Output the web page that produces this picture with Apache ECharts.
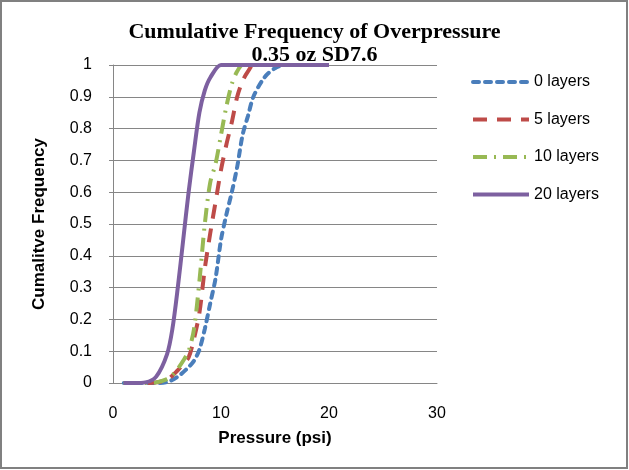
<!DOCTYPE html>
<html>
<head>
<meta charset="utf-8">
<script src="https://cdn.jsdelivr.net/npm/echarts@6/dist/echarts.min.js"></script>
<style>
  html, body { margin: 0; padding: 0; background: #fff; }
  #main { width: 629px; height: 470px; }
</style>
</head>
<body>
<div id="main"></div>
<script>
// values
var layers0X = [1, 2, 3, 4, 5, 6, 7, 7.5, 8, 8.5, 9, 9.5, 10, 10.5, 11, 11.5, 12, 12.5, 13, 14, 15, 16, 17, 18, 19, 20];
var layers0Y = [0, 0, 0, 0, 0.003, 0.02, 0.05, 0.07, 0.105, 0.17, 0.25, 0.33, 0.45, 0.53, 0.6, 0.68, 0.78, 0.84, 0.9, 0.96, 0.99, 1, 1, 1, 1, 1];

var layers5X = [1, 2, 3, 4, 5, 6, 6.5, 7, 7.5, 8, 8.5, 9, 9.5, 10, 10.5, 11, 11.5, 12, 12.5, 13, 14, 15, 16, 17, 18, 19, 20];
var layers5Y = [0, 0, 0, 0.002, 0.01, 0.04, 0.06, 0.08, 0.14, 0.22, 0.36, 0.47, 0.57, 0.67, 0.75, 0.82, 0.9, 0.95, 0.98, 1, 1, 1, 1, 1, 1, 1, 1];

var layers10X = [1, 2, 3, 4, 5, 5.5, 6, 6.5, 7, 7.5, 8, 8.5, 9, 9.5, 10, 10.5, 11, 11.5, 12, 13, 14, 15, 16, 17, 18, 19, 20];
var layers10Y = [0, 0, 0, 0.002, 0.012, 0.025, 0.045, 0.07, 0.1, 0.17, 0.32, 0.5, 0.63, 0.69, 0.78, 0.87, 0.94, 0.98, 1, 1, 1, 1, 1, 1, 1, 1, 1];

var layers20X = [1, 2, 3, 4, 5, 5.5, 6, 6.5, 7, 7.5, 8, 8.5, 9, 10, 11, 12, 13, 14, 15, 16, 17, 18, 19, 20];
var layers20Y = [0, 0, 0.002, 0.02, 0.09, 0.17, 0.3, 0.45, 0.6, 0.73, 0.85, 0.92, 0.96, 1, 1, 1, 1, 1, 1, 1, 1, 1, 1, 1];

var seriesNames = ['0 layers', '5 layers', '10 layers', '20 layers'];

var pairs = function (xs, ys) {
    var res = [];
    for (var i = 0; i < xs.length; i++) {
        res.push([xs[i], ys[i]]);
    }
    return res;
};

var axisGray = '#868686';
var labelFont = 'Liberation Sans';

var makeLine = function (name, data, color, type, cap) {
    return {
        name: name,
        type: 'line',
        data: data,
        smooth: 0.3,
        symbol: 'none',
        showSymbol: false,
        lineStyle: { color: color, width: 4, type: type, cap: cap || 'butt' },
        itemStyle: { color: color }
    };
};

var option = {
    backgroundColor: '#fff',
    animation: false,
    title: {
        text: 'Cumulative Frequency of Overpressure\n0.35 oz SD7.6',
        left: 'center',
        top: 16,
        textStyle: {
            fontFamily: 'Liberation Serif',
            fontWeight: 'bold',
            fontSize: 22,
            lineHeight: 23,
            color: '#000'
        }
    },
    legend: {
        orient: 'vertical',
        left: 466,
        top: 69,
        itemWidth: 56,
        itemHeight: 14,
        itemGap: 21.5,
        data: seriesNames,
        itemStyle: { opacity: 0 },
        lineStyle: { width: 4 },
        textStyle: { fontFamily: labelFont, fontSize: 16, color: '#000', padding: [0, 0, 0, 0] }
    },
    grid: { left: 113, right: 192, top: 65, bottom: 87 },
    xAxis: {
        type: 'value',
        min: 0,
        max: 30,
        interval: 10,
        name: 'Pressure (psi)',
        nameLocation: 'middle',
        nameGap: 47,
        nameTextStyle: { fontFamily: labelFont, fontSize: 17, fontWeight: 'bold', color: '#000' },
        axisLine: { show: true, lineStyle: { color: axisGray, width: 1 } },
        axisTick: { show: false },
        axisLabel: { fontFamily: labelFont, fontSize: 16, color: '#000', margin: 23 },
        splitLine: { show: false }
    },
    yAxis: {
        type: 'value',
        min: 0,
        max: 1,
        interval: 0.1,
        name: 'Cumalitve Frequency',
        nameLocation: 'middle',
        nameGap: 65,
        nameRotate: 90,
        nameTextStyle: { fontFamily: labelFont, fontSize: 17, fontWeight: 'bold', color: '#000' },
        axisLine: { show: true, lineStyle: { color: axisGray, width: 1 } },
        axisTick: { show: true, length: 4, lineStyle: { color: axisGray } },
        axisLabel: { fontFamily: labelFont, fontSize: 16, color: '#000', margin: 21 },
        splitLine: { show: true, lineStyle: { color: axisGray, width: 1 } }
    },
    graphic: [{
        type: 'rect',
        shape: { x: 1, y: 1, width: 626, height: 467 },
        style: { fill: 'none', stroke: '#808080', lineWidth: 2 },
        silent: true
    }],
    series: [
        makeLine(seriesNames[0], pairs(layers0X, layers0Y), '#4a7ebb', [6, 6], 'round'),
        makeLine(seriesNames[1], pairs(layers5X, layers5Y), '#be4b48', [14, 10]),
        makeLine(seriesNames[2], pairs(layers10X, layers10Y), '#98b954', [14, 7, 2, 7]),
        makeLine(seriesNames[3], pairs(layers20X, layers20Y), '#7d60a0', 'solid')
    ]
};

var myChart = echarts.init(document.getElementById('main'));
myChart.setOption(option);
</script>
</body>
</html>
